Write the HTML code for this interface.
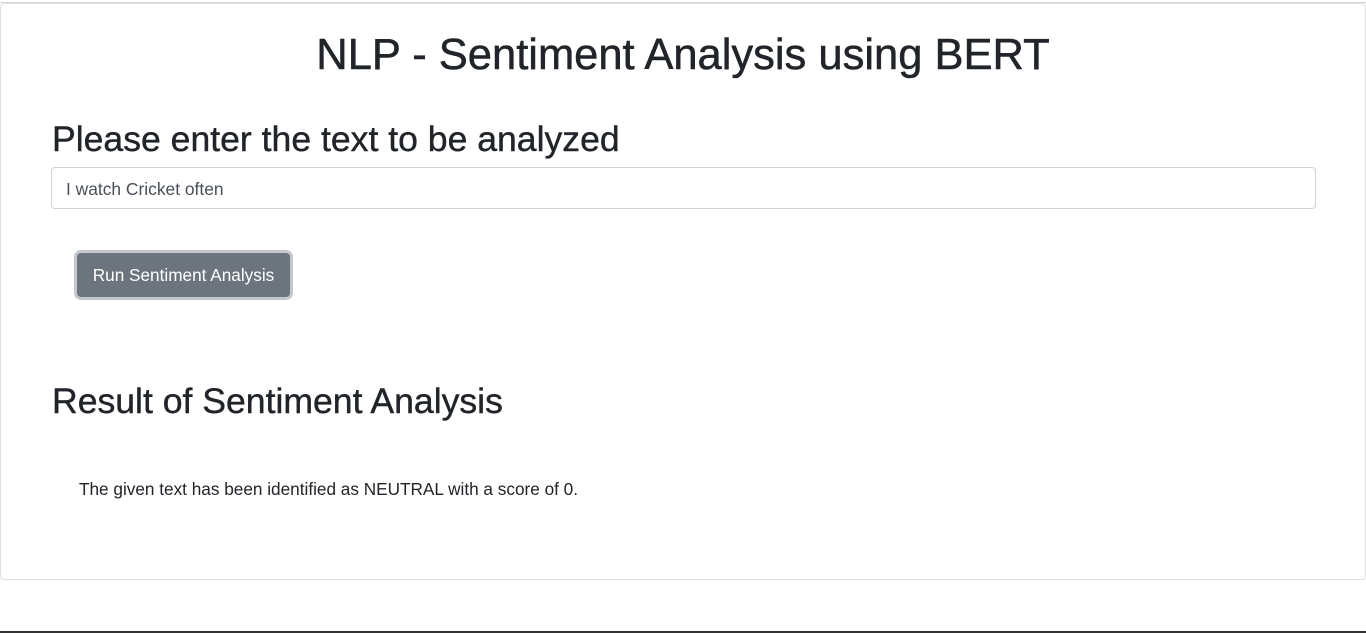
<!DOCTYPE html>
<html><head><meta charset="utf-8"><style>
html,body{margin:0;padding:0;width:1366px;height:633px;overflow:hidden;background:#fff;font-family:"Liberation Sans",sans-serif;color:#212529}
.topline{position:absolute;left:0;top:2px;width:1366px;height:1px;background:#d8d8d8}
.card{position:absolute;left:0;top:3px;width:1366px;height:577px;border:1px solid #dfdfdf;border-radius:4px;box-sizing:border-box}
h1{position:absolute;left:0;width:1366px;top:28px;margin:0;text-align:center;font-size:43.5px;font-weight:500;line-height:54px;-webkit-text-stroke:0.5px #212529}
h2{position:absolute;left:52px;margin:0;font-size:35.6px;font-weight:500;line-height:40px;white-space:nowrap;-webkit-text-stroke:0.4px #212529}
.input{position:absolute;left:51px;top:167px;width:1265px;height:42px;border:1px solid #ced4da;border-radius:4px;box-sizing:border-box;padding:0 14px;font-size:17.4px;line-height:42px;color:#495057}
.btn{position:absolute;left:77px;top:253px;width:213px;height:44px;background:#6c757d;border-radius:4px;box-shadow:0 0 0 3px #c4c8cc;box-sizing:border-box;color:#fff;font-size:17.2px;text-align:center;line-height:44px}
.res{position:absolute;left:79px;top:478px;font-size:17.2px;line-height:22px}
.bottom{position:absolute;left:0;top:631px;width:1366px;height:2px;background:#333}
</style></head><body>
<div class="topline"></div>
<div class="card"></div>
<h1>NLP - Sentiment Analysis using BERT</h1>
<h2 style="top:119px">Please enter the text to be analyzed</h2>
<div class="input">I watch Cricket often</div>
<div class="btn">Run Sentiment Analysis</div>
<h2 style="top:381px">Result of Sentiment Analysis</h2>
<div class="res">The given text has been identified as NEUTRAL with a score of 0.</div>
<div class="bottom"></div>
</body></html>
